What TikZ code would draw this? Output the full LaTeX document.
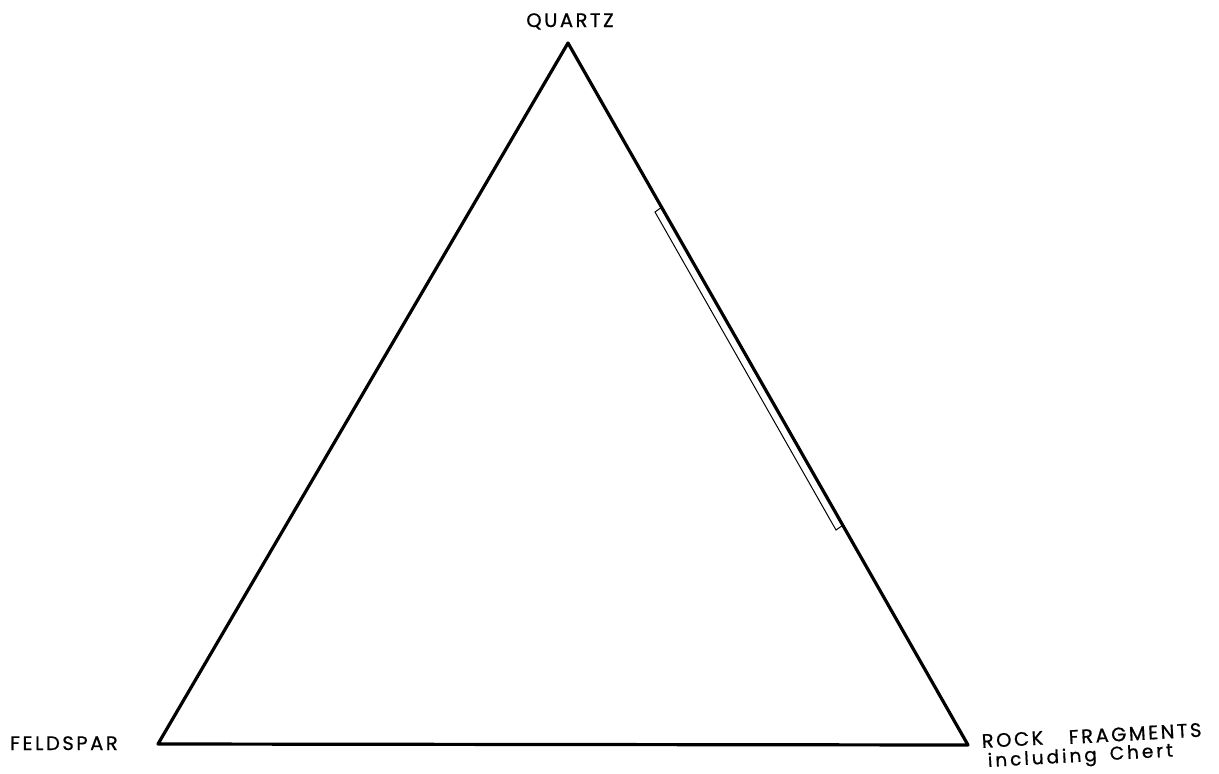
\documentclass[tikz,border=0pt]{standalone}
\usetikzlibrary{calc}
\usepackage{fontspec}
\newfontfamily\lbl[LetterSpace=13,FakeBold=0.8]{Poppins}
\newfontfamily\lblsm[LetterSpace=16,FakeBold=0.8]{Poppins}
\begin{document}
\begin{tikzpicture}[x=1pt,y=-1pt,
  edge/.style={line width=3.2pt,line join=round,line cap=round},
  thin/.style={line width=1pt},
  lab/.style={inner sep=0pt,font=\lbl\fontsize{19.5}{22}\selectfont},
  labsm/.style={inner sep=0pt,font=\lblsm\fontsize{18.5}{22}\selectfont},
  tilt/.style={anchor=base west,rotate=3.2}]
\useasboundingbox (0,0) rectangle (1219,774);
\coordinate (Q) at (568,43);
\coordinate (F) at (158,744);
\coordinate (R) at (968,745);
\draw[edge] (Q) -- (F) -- (R) -- cycle;
% narrow strip along the right edge
\coordinate (s1) at (655,212);
\coordinate (s2) at (836,530);
\coordinate (e1) at ($(Q)!0.234!(R)$);
\coordinate (e2) at ($(Q)!0.687!(R)$);
\draw[thin] (e1) -- (s1) -- (s2) -- (e2);
\node[lab,anchor=base] (q) at (570,27) {QUARTZ};
\node[lab,anchor=base west] (f) at (10,750) {FELDSPAR};
\node[lab,tilt] (r1) at (982,748) {ROCK};
\node[lab,tilt] (r2) at (1069,744) {FRAGMENTS};
\node[labsm,tilt] (c1) at (988,767) {including};
\node[labsm,tilt] (c2) at (1110,760) {Chert};
\end{tikzpicture}
\end{document}
